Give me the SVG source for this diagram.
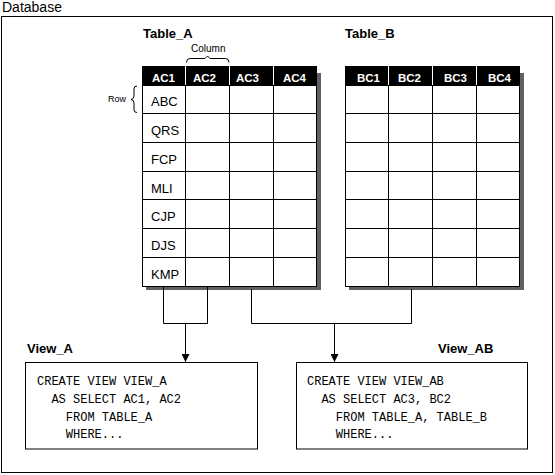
<svg xmlns="http://www.w3.org/2000/svg" width="555" height="475" viewBox="0 0 555 475">
<style>
.sans{font-family:"Liberation Sans",Arial,sans-serif;fill:#000}
.title{font-family:"Liberation Sans",Arial,sans-serif;font-weight:bold;font-size:13px;fill:#000}
.hdr{font-family:"Liberation Sans",Arial,sans-serif;font-weight:bold;font-size:11.5px;fill:#fff}
.row{font-family:"Liberation Sans",Arial,sans-serif;font-size:13px;fill:#000}
.mono{font-family:"Liberation Mono","Courier New",monospace;font-size:12px;fill:#000}
.grid{fill:none;stroke:#000;stroke-width:1}
.body{fill:#fff;stroke:#000;stroke-width:1}
.shadow{fill:#606060}
.sep{stroke:#fff;stroke-width:1}
.conn{fill:none;stroke:#000;stroke-width:1}
.box{fill:#fff;stroke:#000;stroke-width:1}
</style>
<defs>
<marker id="arr" markerUnits="userSpaceOnUse" markerWidth="8" markerHeight="8" refX="8" refY="4" orient="auto">
<path d="M0,0 L8,4 L0,8 z" fill="#000"/>
</marker>
</defs>
<rect x="0" y="0" width="555" height="475" fill="#fff"/>
<g id="database">
<text class="sans" x="2" y="12" font-size="14">Database</text>
<rect x="1.5" y="16.5" width="551" height="456" fill="none" stroke="#000"/>
</g>
<g id="table_a">
<text class="title" x="143" y="38">Table_A</text>
<text class="sans" x="191" y="52" font-size="10">Column</text>
<path class="conn" d="M186.5,62.5 Q186.5,58.5 190,58.5 H205 L207.5,56 L210,58.5 H225.5 Q229,58.5 229,62.5"/>
<text class="sans" x="108" y="102" font-size="9">Row</text>
<path class="conn" d="M137,86 Q134,86 134,89 V96 Q134,99 131,99.5 Q134,100 134,103 V110 Q134,112.5 137,112.5"/>
<rect class="shadow" x="146" y="73" width="175" height="217"/>
<rect x="142" y="66" width="175" height="19.5" fill="#000"/>
<path class="sep" d="M185.5,66 V85 M229.5,66 V85 M273.5,66 V85"/>
<rect class="body" x="142.5" y="85.5" width="174" height="201"/>
<path class="grid" d="M185.5,85.5 V286.5 M229.5,85.5 V286.5 M273.5,85.5 V286.5 M142.5,113.5 H316.5 M142.5,142.5 H316.5 M142.5,171.5 H316.5 M142.5,199.5 H316.5 M142.5,228.5 H316.5 M142.5,257.5 H316.5"/>
<text class="hdr" x="152" y="82">AC1</text>
<text class="hdr" x="193" y="82">AC2</text>
<text class="hdr" x="236" y="82">AC3</text>
<text class="hdr" x="283" y="82">AC4</text>
<text class="row" x="151" y="106">ABC</text>
<text class="row" x="151" y="135">QRS</text>
<text class="row" x="151" y="164">FCP</text>
<text class="row" x="151" y="193">MLI</text>
<text class="row" x="151" y="221">CJP</text>
<text class="row" x="151" y="250">DJS</text>
<text class="row" x="151" y="279">KMP</text>
</g>
<g id="table_b">
<text class="title" x="345" y="38">Table_B</text>
<rect class="shadow" x="349" y="73" width="175" height="217"/>
<rect x="345" y="66" width="175" height="19.5" fill="#000"/>
<path class="sep" d="M388.5,66 V85 M432.5,66 V85 M476.5,66 V85"/>
<rect class="body" x="345.5" y="85.5" width="174" height="201"/>
<path class="grid" d="M388.5,85.5 V286.5 M432.5,85.5 V286.5 M476.5,85.5 V286.5 M345.5,113.5 H519.5 M345.5,142.5 H519.5 M345.5,171.5 H519.5 M345.5,199.5 H519.5 M345.5,228.5 H519.5 M345.5,257.5 H519.5"/>
<text class="hdr" x="357" y="82">BC1</text>
<text class="hdr" x="398" y="82">BC2</text>
<text class="hdr" x="444" y="82">BC3</text>
<text class="hdr" x="488" y="82">BC4</text>
</g>
<g id="connectors">
<path class="conn" d="M163.5,287 V323.5 H207.5 V287"/>
<path class="conn" d="M185.5,323.5 V362" marker-end="url(#arr)"/>
<path class="conn" d="M251.5,289 V323.5 H411.5 V289"/>
<path class="conn" d="M334.5,323.5 V362" marker-end="url(#arr)"/>
</g>
<g id="view_a">
<text class="title" x="27" y="353">View_A</text>
<rect class="box" x="25.5" y="362.5" width="232" height="86.5"/>
<text class="mono" x="37" y="385">CREATE VIEW VIEW_A</text>
<text class="mono" x="51.4" y="403">AS SELECT AC1, AC2</text>
<text class="mono" x="65.8" y="420.5">FROM TABLE_A</text>
<text class="mono" x="65.8" y="438">WHERE...</text>
</g>
<g id="view_ab">
<text class="title" x="438" y="353">View_AB</text>
<rect class="box" x="296.5" y="362.5" width="231" height="86.5"/>
<text class="mono" x="307" y="385">CREATE VIEW VIEW_AB</text>
<text class="mono" x="321.4" y="403">AS SELECT AC3, BC2</text>
<text class="mono" x="335.8" y="420.5">FROM TABLE_A, TABLE_B</text>
<text class="mono" x="335.8" y="438">WHERE...</text>
</g>
</svg>
